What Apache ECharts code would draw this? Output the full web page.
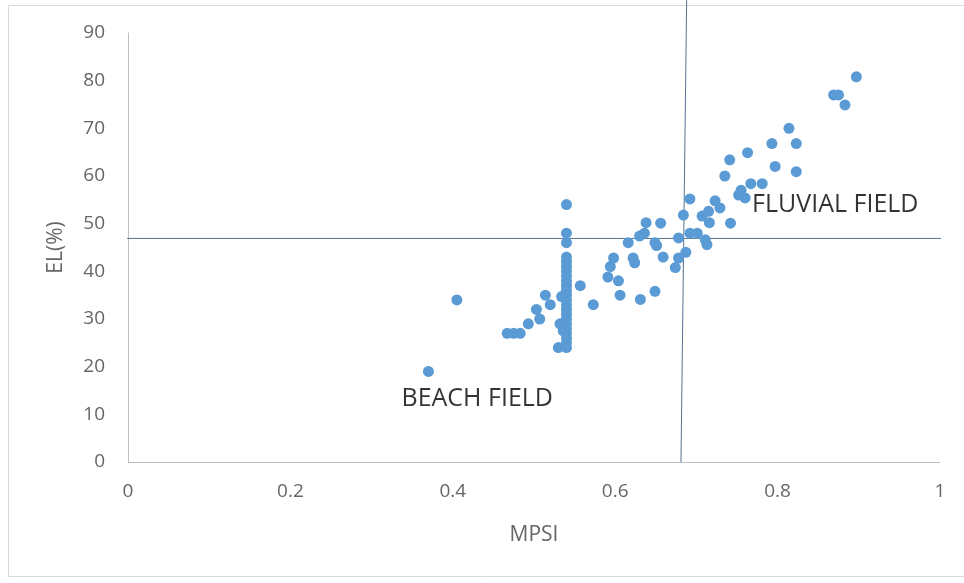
<!DOCTYPE html>
<html>
<head>
<meta charset="utf-8">
<script src="https://cdn.jsdelivr.net/npm/echarts@6/dist/echarts.min.js"></script>
<style>
html,body{margin:0;padding:0;background:#fff;}
#chart{width:964px;height:583px;}
</style>
</head>
<body>
<div id="chart"></div>
<script>
// MPSI (x) values and EL(%) (y) values
const mpsi = [
  0.370, 0.405, 0.467, 0.475, 0.483, 0.493, 0.503, 0.507, 0.514, 0.520, 0.530, 0.532,
  0.540, 0.540, 0.540, 0.540, 0.540, 0.540, 0.540, 0.540, 0.540, 0.540, 0.540, 0.540,
  0.540, 0.540, 0.540, 0.540, 0.540, 0.540, 0.540, 0.540, 0.540, 0.540, 0.540,
  0.536, 0.534, 0.557, 0.573,
  0.591, 0.594, 0.598, 0.604, 0.606, 0.616, 0.622, 0.624, 0.630, 0.631, 0.636, 0.638,
  0.649, 0.649, 0.651, 0.656, 0.659, 0.674, 0.678, 0.678, 0.684, 0.687,
  0.692, 0.692, 0.701, 0.707, 0.711, 0.713, 0.715, 0.716, 0.723, 0.729, 0.742,
  0.735, 0.741, 0.752, 0.755, 0.760, 0.767, 0.781, 0.763, 0.793, 0.797, 0.814, 0.823,
  0.823, 0.869, 0.875, 0.883, 0.897
];
const el = [
  19.0, 34.0, 27.0, 27.0, 27.0, 29.0, 32.0, 30.0, 35.0, 33.0, 24.0, 29.0,
  54.0, 48.0, 46.0, 43.0, 42.0, 41.0, 40.0, 39.0, 38.0, 37.0, 36.0, 35.0,
  34.0, 33.0, 32.0, 31.0, 30.0, 29.0, 28.0, 27.0, 26.0, 25.0, 24.0,
  27.5, 34.7, 37.0, 33.0,
  38.8, 41.0, 42.8, 38.0, 35.0, 46.0, 42.8, 41.8, 47.4, 34.1, 48.0, 50.2,
  46.0, 35.8, 45.4, 50.1, 43.0, 40.8, 42.8, 47.0, 51.8, 44.0,
  48.0, 55.2, 48.0, 51.6, 46.6, 45.6, 52.6, 50.2, 54.8, 53.3, 50.1,
  60.0, 63.4, 56.0, 57.0, 55.4, 58.4, 58.4, 64.9, 66.8, 62.0, 70.0, 66.8,
  60.9, 77.0, 77.0, 74.9, 80.8
];

// Reference lines separating the fields
const hLineX = [-0.006, 1.03];
const hLineY = [46.9, 46.9];
const vLineX = [0.688, 0.681];
const vLineY = [96.9, 0];

// Field annotations
const fieldNames = ['BEACH FIELD', 'FLUVIAL FIELD'];
const fieldX = [0.3362, 0.768];
const fieldY = [13.3, 54.0];

// Axis ticks
const xTicks = ['0', '0.2', '0.4', '0.6', '0.8', '1'];
const yTicks = ['0', '10', '20', '30', '40', '50', '60', '70', '80', '90'];

const points = mpsi.map((x, i) => [x, el[i]]);
const hLine = hLineX.map((x, i) => [x, hLineY[i]]);
const vLine = vLineX.map((x, i) => [x, vLineY[i]]);
const fields = fieldNames.map((n, i) => ({ name: n, value: [fieldX[i], fieldY[i]] }));

const chart = echarts.init(document.getElementById('chart'), null, { renderer: 'canvas' });
const labelFont = 'Open Sans';
chart.setOption({
  animation: false,
  backgroundColor: '#fff',
  graphic: [{
    type: 'rect',
    shape: { x: 8.5, y: 5.5, width: 980, height: 571 },
    style: { fill: 'none', stroke: '#d9d9d9', lineWidth: 1 },
    silent: true, z: -10
  }],
  grid: { left: 128, right: 24, top: 33, bottom: 121, containLabel: false },
  xAxis: {
    type: 'value', min: 0, max: 1, interval: 0.2,
    name: 'MPSI', nameLocation: 'middle', nameGap: 63,
    nameTextStyle: { fontFamily: labelFont, fontSize: 21, color: '#666666' },
    axisLine: { show: true, lineStyle: { color: '#bfbfbf', width: 1 } },
    axisTick: { show: false },
    splitLine: { show: false },
    axisLabel: {
      margin: 20, fontFamily: labelFont, fontSize: 19, color: '#666666',
      formatter: (v) => xTicks[Math.round(v / 0.2)]
    }
  },
  yAxis: {
    type: 'value', min: 0, max: 90, interval: 10,
    name: 'EL(%)', nameLocation: 'middle', nameGap: 61,
    nameTextStyle: { fontFamily: labelFont, fontSize: 21, color: '#666666' },
    axisLine: { show: true, lineStyle: { color: '#bfbfbf', width: 1 } },
    axisTick: { show: false },
    splitLine: { show: false },
    axisLabel: {
      margin: 23, fontFamily: labelFont, fontSize: 19, color: '#666666',
      formatter: (v) => yTicks[Math.round(v / 10)]
    }
  },
  series: [
    {
      type: 'line', data: hLine, symbol: 'none', clip: false, silent: true,
      lineStyle: { color: '#56718f', width: 1 }, z: 1
    },
    {
      type: 'line', data: vLine, symbol: 'none', clip: false, silent: true,
      lineStyle: { color: '#56718f', width: 1 }, z: 1
    },
    {
      type: 'scatter', data: points, symbol: 'circle', symbolSize: 11,
      itemStyle: { color: '#5b9bd5', opacity: 1 }, z: 3, silent: true
    },
    {
      type: 'scatter', data: fields, symbolSize: 1, silent: true, z: 4,
      itemStyle: { color: 'rgba(0,0,0,0)' },
      labelLayout: { hideOverlap: false },
      label: {
        show: true, position: 'right', distance: 0, formatter: '{b}',
        fontFamily: labelFont, fontSize: 25, color: '#000000'
      }
    }
  ]
});
</script>
</body>
</html>
